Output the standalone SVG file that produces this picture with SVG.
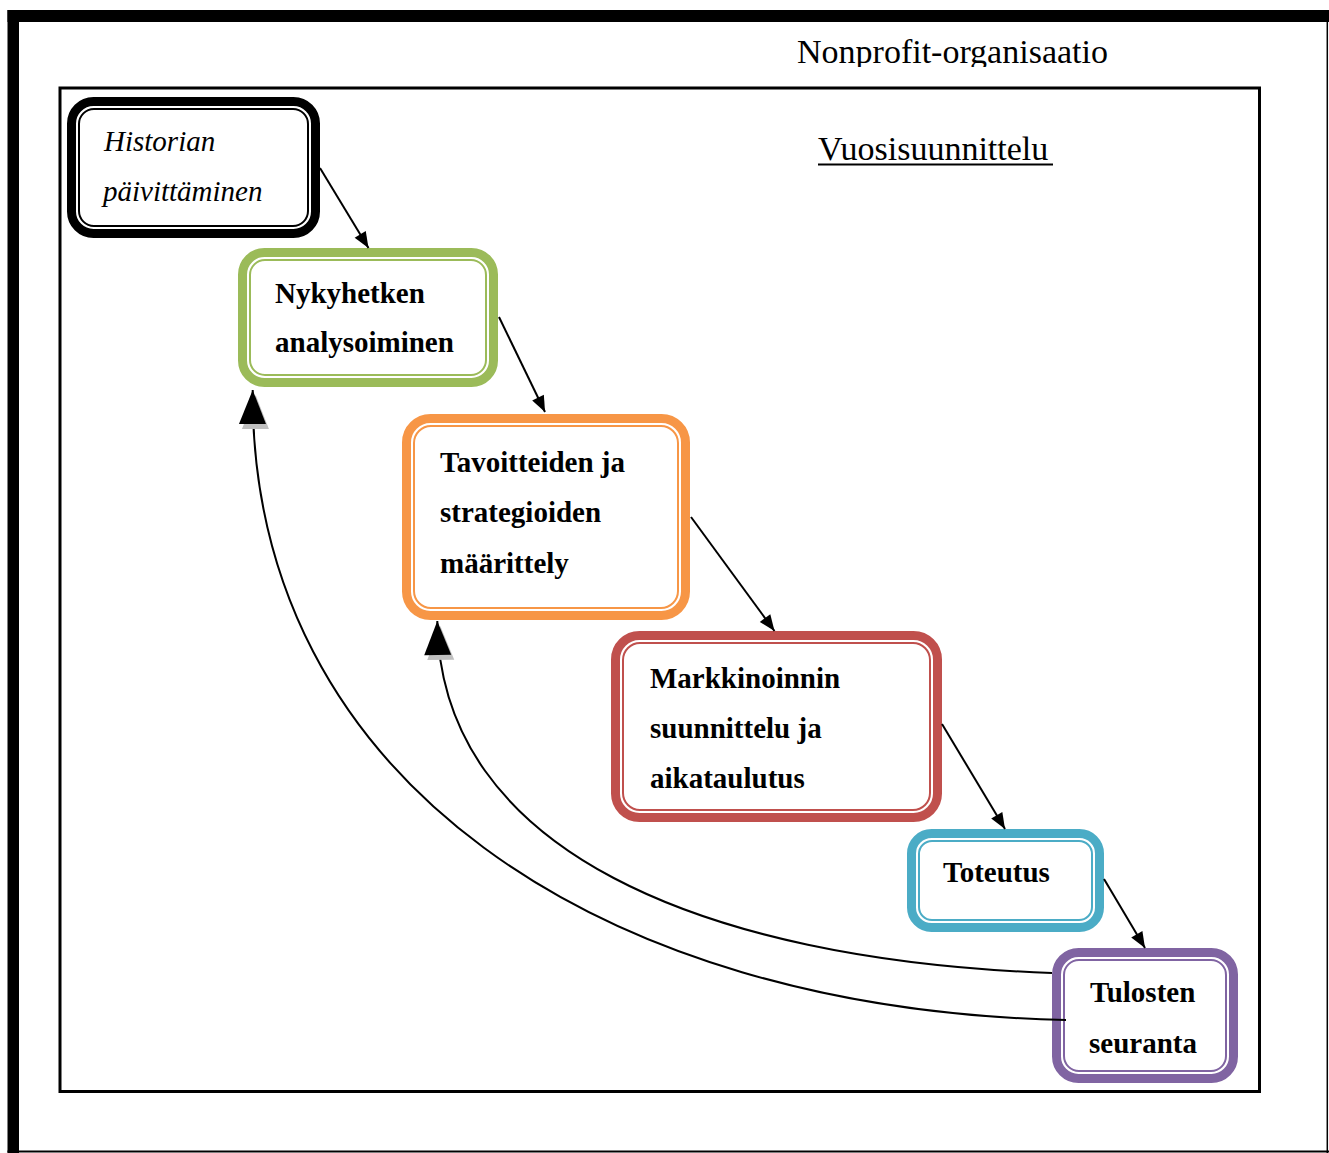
<svg xmlns="http://www.w3.org/2000/svg" width="1329" height="1153" viewBox="0 0 1329 1153">
<style>
.thick{fill:none;stroke-width:9}
.thin{fill:none;stroke-width:2}
.lbl{font-family:"Liberation Serif","Times New Roman",serif;font-size:29px;font-weight:bold;fill:#000}
.it{font-family:"Liberation Serif","Times New Roman",serif;font-size:29px;font-style:italic;fill:#000}
.title{font-family:"Liberation Serif","Times New Roman",serif;font-size:34px;fill:#000}
.conn{fill:none;stroke:#000;stroke-width:2}
</style>
<defs>
<marker id="sm" markerUnits="userSpaceOnUse" markerWidth="18" markerHeight="14" refX="16" refY="6.5" orient="auto" overflow="visible">
<path d="M0,0 L16,6.5 L0,13 z" fill="#000"/>
</marker>
<marker id="big" markerUnits="userSpaceOnUse" markerWidth="40" markerHeight="34" refX="34" refY="13.5" orient="auto" overflow="visible">
<path d="M-5,3 L29,16.5 L-5,30 z" fill="#BFBFBF"/>
<path d="M0,0 L34,13.5 L0,27 z" fill="#000"/>
</marker>
<clipPath id="tclip"><rect x="0" y="0" width="1329" height="67"/></clipPath>
</defs>
<rect x="0" y="0" width="1329" height="1153" fill="#fff"/>
<g id="frame">
<rect x="7.5" y="10" width="11.5" height="1143" fill="#000"/>
<rect x="7.5" y="10" width="1321.5" height="12" fill="#000"/>
<line x1="1327.3" y1="10" x2="1327.3" y2="1153" stroke="#000" stroke-width="1.5"/>
<line x1="7.5" y1="1151.6" x2="1329" y2="1151.6" stroke="#000" stroke-width="2"/>
<rect x="60" y="88" width="1199.5" height="1003.5" fill="none" stroke="#000" stroke-width="3"/>
</g>
<g id="titles">
<text class="title" x="797" y="63" clip-path="url(#tclip)">Nonprofit-organisaatio</text>
<text class="title" x="818" y="160">Vuosisuunnittelu</text>
<line x1="818" y1="164.5" x2="1053" y2="164.5" stroke="#000" stroke-width="2"/>
</g>
<g id="node-historian">
<rect class="thick" x="71.5" y="101.5" width="244" height="132" rx="22" stroke="#000"/>
<rect class="thin" x="79" y="109" width="229" height="117" rx="15" stroke="#000"/>
<text class="it" x="104" y="151">Historian</text>
<text class="it" x="103" y="201">päivittäminen</text>
</g>
<g id="node-nykyhetken">
<rect class="thick" x="242.5" y="252.5" width="251" height="130" rx="22" stroke="#9BBB59"/>
<rect class="thin" x="250" y="260" width="236" height="115" rx="15" stroke="#9BBB59"/>
<text class="lbl" x="275" y="303">Nykyhetken</text>
<text class="lbl" x="275" y="352">analysoiminen</text>
</g>
<g id="node-tavoitteiden">
<rect class="thick" x="406.5" y="418.5" width="279" height="197" rx="24" stroke="#F79646"/>
<rect class="thin" x="414" y="426" width="264" height="182" rx="17" stroke="#F79646"/>
<text class="lbl" x="440" y="472">Tavoitteiden ja</text>
<text class="lbl" x="440" y="522">strategioiden</text>
<text class="lbl" x="440" y="573">määrittely</text>
</g>
<g id="node-markkinoinnin">
<rect class="thick" x="615.5" y="635.5" width="322" height="182" rx="24" stroke="#C0504D"/>
<rect class="thin" x="623" y="643" width="307" height="167" rx="17" stroke="#C0504D"/>
<text class="lbl" x="650" y="688">Markkinoinnin</text>
<text class="lbl" x="650" y="738">suunnittelu ja</text>
<text class="lbl" x="650" y="788">aikataulutus</text>
</g>
<g id="node-toteutus">
<rect class="thick" x="911.5" y="833.5" width="188" height="94" rx="20" stroke="#4BACC6"/>
<rect class="thin" x="919" y="841" width="173" height="79" rx="13" stroke="#4BACC6"/>
<text class="lbl" x="943" y="882">Toteutus</text>
</g>
<g id="node-tulosten">
<rect class="thick" x="1056.5" y="952.5" width="177" height="126" rx="22" stroke="#8064A2"/>
<rect class="thin" x="1064" y="960" width="162" height="111" rx="15" stroke="#8064A2"/>
<text class="lbl" x="1090" y="1002">Tulosten</text>
<text class="lbl" x="1089" y="1053">seuranta</text>
</g>
<g id="connectors">
<line class="conn" x1="320" y1="168" x2="368.5" y2="248" marker-end="url(#sm)"/>
<line class="conn" x1="499" y1="317" x2="545" y2="412" marker-end="url(#sm)"/>
<line class="conn" x1="691" y1="517" x2="774.5" y2="631" marker-end="url(#sm)"/>
<line class="conn" x1="942" y1="724" x2="1005" y2="829" marker-end="url(#sm)"/>
<line class="conn" x1="1104" y1="879" x2="1145" y2="948" marker-end="url(#sm)"/>
<path class="conn" d="M1066,1020 C600,1010 250,780 252.7,390" marker-end="url(#big)"/>
<path class="conn" d="M1052,973 C700,960 440,850 437.3,621" marker-end="url(#big)"/>
</g>
</svg>
